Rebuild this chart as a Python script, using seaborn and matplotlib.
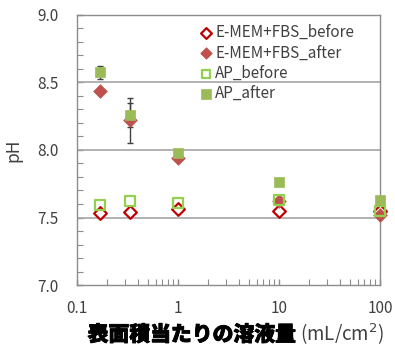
import matplotlib
matplotlib.use("Agg")
import matplotlib.pyplot as plt
import matplotlib.patheffects as pe
import seaborn as sns
import numpy as np
from matplotlib.ticker import FixedLocator, MultipleLocator, LogLocator, NullFormatter

# ---- data ----
volume = [0.167, 0.333, 1, 10, 100]
emem_before = [7.53, 7.54, 7.56, 7.55, 7.55]
emem_after = [8.44, 8.22, 7.94, 7.62, 7.52]
emem_after_err = [0.0, 0.167, 0.0, 0.0, 0.0]
ap_before = [7.59, 7.62, 7.61, 7.63, 7.55]
ap_after = [8.575, 8.26, 7.98, 7.76, 7.63]
ap_after_err = [0.05, 0.087, 0.02, 0.0, 0.0]
series_names = ["E-MEM+FBS_before", "E-MEM+FBS_after", "AP_before", "AP_after"]
y_ticks = [7.0, 7.5, 8.0, 8.5, 9.0]
x_ticks = [0.1, 1, 10, 100]
x_tick_labels = ["0.1", "1", "10", "100"]
xlabel_jp = "表面積当たりの溶液量"
xlabel_unit = " (mL/cm$^2$)"

sns.set_style("white")
plt.rcParams['font.family'] = ['Noto Sans CJK JP', 'DejaVu Sans']

fig = plt.figure(figsize=(3.95, 3.48), dpi=100)
ax = fig.add_axes([0.195, 0.181, 0.767, 0.776])

# error bars first
ax.errorbar(volume, emem_after, yerr=emem_after_err, fmt='none', ecolor='#404040',
            elinewidth=1, capsize=2.5, capthick=1, zorder=2)
ax.errorbar(volume, ap_after, yerr=ap_after_err, fmt='none', ecolor='#404040',
            elinewidth=1, capsize=2.5, capthick=1, zorder=2)

styles = [
    (emem_before, dict(marker='D', s=42, facecolor='white', edgecolor='#C00000', linewidth=1.6)),
    (emem_after, dict(marker='D', s=48, color='#C0504D', edgecolor='#C0504D', linewidth=0.5)),
    (ap_before, dict(marker='s', s=52, facecolor='none', edgecolor='#92D050', linewidth=1.6)),
    (ap_after, dict(marker='s', s=62, color='#9BBB59', edgecolor='#9BBB59', linewidth=0.5)),
]
for name, (vals, kw) in zip(series_names, styles):
    sns.scatterplot(x=volume, y=vals, ax=ax, label=name, zorder=3, clip_on=False, **kw)

ax.set_xscale('log')
ax.set_xlim(0.1, 100)
ax.set_ylim(7.0, 9.0)
ax.yaxis.set_major_locator(FixedLocator(y_ticks))
ax.yaxis.set_minor_locator(MultipleLocator(0.1))
ax.set_yticklabels([f"{v:.1f}" for v in y_ticks])
ax.xaxis.set_major_locator(FixedLocator(x_ticks))
ax.set_xticklabels(x_tick_labels)
ax.xaxis.set_minor_locator(LogLocator(base=10, subs=np.arange(2, 10)))
ax.xaxis.set_minor_formatter(NullFormatter())

for y in y_ticks[1:-1]:
    ax.axhline(y, color='#A6A6A6', linewidth=1.2, zorder=1)

for sp in ax.spines.values():
    sp.set_color('#8C8C8C')
    sp.set_linewidth(1.0)

ax.tick_params(axis='both', which='both', direction='in', color='#8C8C8C',
               top=False, right=False, left=True, bottom=True)
ax.tick_params(axis='both', which='major', length=4, width=1, labelsize=11,
               labelcolor='#404040')
ax.tick_params(axis='y', which='major', pad=13)
ax.tick_params(axis='x', which='major', pad=11)
ax.tick_params(axis='both', which='minor', length=4, width=0.8)

ax.set_ylabel("pH", fontsize=12.5, color='#404040', labelpad=11)
ax.set_xlabel("")

leg = ax.legend(loc='upper right', frameon=False, fontsize=11, handletextpad=0.15,
                labelspacing=0.22, borderaxespad=0.2, handlelength=0.9, markerscale=0.85,
                labelcolor='#404040', bbox_to_anchor=(0.945, 1.0))

# x label in two parts
t1 = fig.text(0.0, 0.02, xlabel_jp, fontsize=15, fontweight='black', color='black',
              family=['Noto Sans CJK JP', 'DejaVu Sans'], ha='left', va='baseline',
              path_effects=[pe.withStroke(linewidth=0.6, foreground='black')])
fig.canvas.draw()
r = fig.canvas.get_renderer()
bb1 = t1.get_window_extent(r)
t2 = fig.text(0.0, 0.02, xlabel_unit, fontsize=13.5, color='#404040',
              family=['Noto Sans CJK JP', 'DejaVu Sans'], ha='left', va='baseline')
bb2 = t2.get_window_extent(r)
total = bb1.width + bb2.width
W = fig.bbox.width
cx = 236.0
x0 = cx - total / 2
t1.set_x(x0 / W)
t2.set_x((x0 + bb1.width) / W)

fig.savefig("out.png", dpi=100)
